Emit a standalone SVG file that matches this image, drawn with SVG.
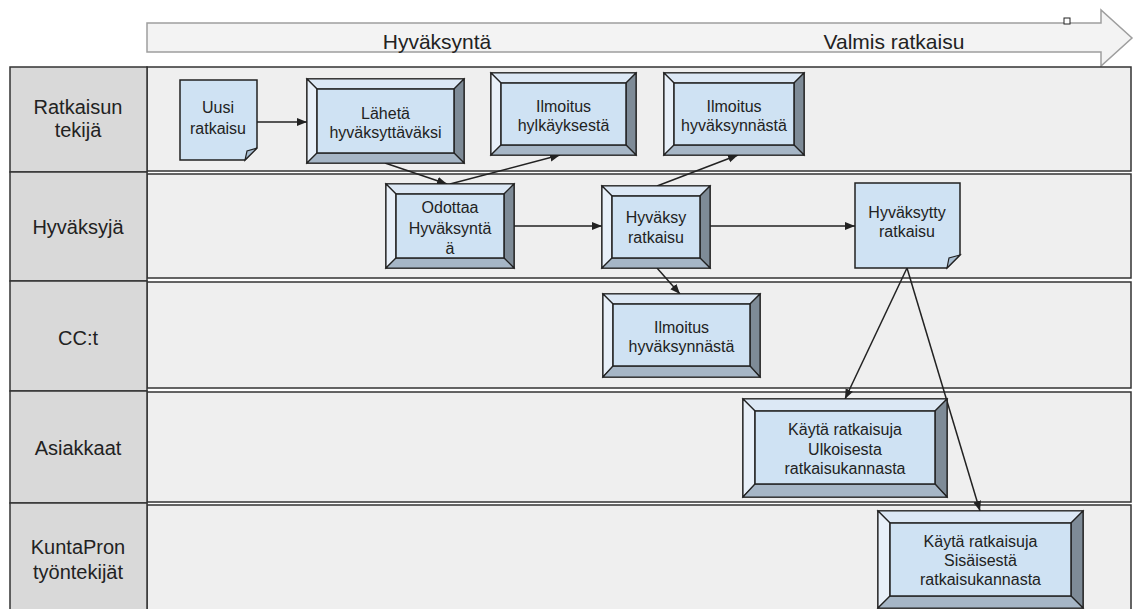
<svg xmlns="http://www.w3.org/2000/svg" width="1137" height="609" viewBox="0 0 1137 609">
<defs>
<style>
.lbl{font-family:"Liberation Sans",Arial,sans-serif;font-size:20px;fill:#222;text-anchor:middle;dominant-baseline:central}
.hdr{font-family:"Liberation Sans",Arial,sans-serif;font-size:21px;fill:#222;text-anchor:middle;dominant-baseline:central}
.t{font-family:"Liberation Sans",Arial,sans-serif;font-size:16px;fill:#222;text-anchor:middle;dominant-baseline:central}
.lane{fill:#efefef;stroke:#333;stroke-width:1.5}
.cell{fill:#d9d9d9;stroke:#333;stroke-width:1.5}
.o{fill:#cfe2f3;stroke:#222;stroke-width:1.5}
.bt{fill:#dce8f5;stroke:#222;stroke-width:1.2}
.bl{fill:#e8f0f9;stroke:#222;stroke-width:1.2}
.br{fill:#7e8b97;stroke:#222;stroke-width:1.2}
.bb{fill:#a6b6c6;stroke:#222;stroke-width:1.2}
.in{fill:#cfe2f3;stroke:#222;stroke-width:1.5}
.doc{fill:#cfe2f3;stroke:#222;stroke-width:1.5}
.fold{fill:#a9bfd3;stroke:#222;stroke-width:1.2}
.c{fill:none;stroke:#222;stroke-width:1.5;marker-end:url(#ah)}
.cn{fill:none;stroke:#222;stroke-width:1.5}
</style>
<marker id="ah" viewBox="0 0 10 10" refX="10" refY="5" markerWidth="10" markerHeight="10" markerUnits="userSpaceOnUse" orient="auto">
<path d="M0,1 L10,5 L0,9 Z" fill="#222"/>
</marker>
</defs>

<g id="timeline">
<polygon points="147,23 1101,23 1101,10 1132,38 1101,66 1101,52 147,52" fill="#f3f3f3" stroke="#9e9e9e" stroke-width="1.5"/>
<text class="hdr" x="437" y="41">Hyväksyntä</text>
<text class="hdr" x="894" y="41">Valmis ratkaisu</text>
<rect x="1064" y="18" width="6" height="6" fill="#fff" stroke="#222" stroke-width="1"/>
</g>

<g id="lanes">
<rect class="lane" x="147" y="67" width="984" height="104"/>
<rect class="lane" x="147" y="174" width="984" height="104"/>
<rect class="lane" x="147" y="282" width="984" height="106"/>
<rect class="lane" x="147" y="392" width="984" height="110"/>
<rect class="lane" x="147" y="505" width="984" height="110"/>
<rect class="cell" x="10" y="67" width="137" height="105"/>
<rect class="cell" x="10" y="172" width="137" height="109"/>
<rect class="cell" x="10" y="281" width="137" height="110"/>
<rect class="cell" x="10" y="391" width="137" height="112"/>
<rect class="cell" x="10" y="503" width="137" height="112"/>
<text class="lbl" x="78" y="107">Ratkaisun</text>
<text class="lbl" x="78" y="130">tekijä</text>
<text class="lbl" x="78" y="227">Hyväksyjä</text>
<text class="lbl" x="78" y="338">CC:t</text>
<text class="lbl" x="78" y="448">Asiakkaat</text>
<text class="lbl" x="78" y="547">KuntaPron</text>
<text class="lbl" x="78" y="572">työntekijät</text>
</g>

<g id="connectors">
<line class="c" x1="257" y1="122" x2="307" y2="122"/>
<line class="c" x1="385" y1="163" x2="447" y2="184"/>
<line class="c" x1="450" y1="184" x2="560" y2="155"/>
<line class="c" x1="514" y1="226" x2="602" y2="226"/>
<line class="c" x1="657" y1="186" x2="738" y2="155"/>
<line class="c" x1="710" y1="226" x2="855" y2="226"/>
<line class="c" x1="657" y1="268" x2="680" y2="294"/>
<line class="c" x1="907" y1="268" x2="845" y2="399"/>
<line class="c" x1="907" y1="268" x2="980" y2="511"/>
</g>

<g id="n-uusi">
<path class="doc" d="M180,80 H257 V148 L245,160 H180 Z"/>
<path class="fold" d="M257,148 L247,151 L245,160 Z"/>
<text class="t" x="218" y="107">Uusi</text>
<text class="t" x="218" y="128">ratkaisu</text>
</g>

<g id="n-laheta">
<rect class="o" x="307" y="79" width="157" height="84"/>
<polygon class="bt" points="307,79 464,79 454,89 317,89"/>
<polygon class="bl" points="307,79 317,89 317,153 307,163"/>
<polygon class="br" points="464,79 464,163 454,153 454,89"/>
<polygon class="bb" points="307,163 317,153 454,153 464,163"/>
<rect class="in" x="317" y="89" width="137" height="64"/>
<text class="t" x="385.5" y="113">Lähetä</text>
<text class="t" x="385.5" y="132">hyväksyttäväksi</text>
</g>

<g id="n-hylkays">
<rect class="o" x="491" y="73" width="145" height="82"/>
<polygon class="bt" points="491,73 636,73 626,83 501,83"/>
<polygon class="bl" points="491,73 501,83 501,145 491,155"/>
<polygon class="br" points="636,73 636,155 626,145 626,83"/>
<polygon class="bb" points="491,155 501,145 626,145 636,155"/>
<rect class="in" x="501" y="83" width="125" height="62"/>
<text class="t" x="563.5" y="106">Ilmoitus</text>
<text class="t" x="563.5" y="125">hylkäyksestä</text>
</g>

<g id="n-hyvaksynta1">
<rect class="o" x="664" y="73" width="140" height="82"/>
<polygon class="bt" points="664,73 804,73 794,83 674,83"/>
<polygon class="bl" points="664,73 674,83 674,145 664,155"/>
<polygon class="br" points="804,73 804,155 794,145 794,83"/>
<polygon class="bb" points="664,155 674,145 794,145 804,155"/>
<rect class="in" x="674" y="83" width="120" height="62"/>
<text class="t" x="734" y="106">Ilmoitus</text>
<text class="t" x="734" y="125">hyväksynnästä</text>
</g>

<g id="n-odottaa">
<rect class="o" x="386" y="184" width="128" height="84"/>
<polygon class="bt" points="386,184 514,184 504,194 396,194"/>
<polygon class="bl" points="386,184 396,194 396,258 386,268"/>
<polygon class="br" points="514,184 514,268 504,258 504,194"/>
<polygon class="bb" points="386,268 396,258 504,258 514,268"/>
<rect class="in" x="396" y="194" width="108" height="64"/>
<text class="t" x="450" y="207">Odottaa</text>
<text class="t" x="450" y="228">Hyväksyntä</text>
<text class="t" x="450" y="248">ä</text>
</g>

<g id="n-hyvaksy">
<rect class="o" x="602" y="186" width="108" height="82"/>
<polygon class="bt" points="602,186 710,186 700,196 612,196"/>
<polygon class="bl" points="602,186 612,196 612,258 602,268"/>
<polygon class="br" points="710,186 710,268 700,258 700,196"/>
<polygon class="bb" points="602,268 612,258 700,258 710,268"/>
<rect class="in" x="612" y="196" width="88" height="62"/>
<text class="t" x="656" y="217">Hyväksy</text>
<text class="t" x="656" y="237">ratkaisu</text>
</g>

<g id="n-hyvaksytty">
<path class="doc" d="M855,183 H960 V255 L947,268 H855 Z"/>
<path class="fold" d="M960,255 L949,258 L947,268 Z"/>
<text class="t" x="907" y="212">Hyväksytty</text>
<text class="t" x="907" y="231">ratkaisu</text>
</g>

<g id="n-cc">
<rect class="o" x="603" y="294" width="157" height="83"/>
<polygon class="bt" points="603,294 760,294 750,304 613,304"/>
<polygon class="bl" points="603,294 613,304 613,366 603,377"/>
<polygon class="br" points="760,294 760,377 750,366 750,304"/>
<polygon class="bb" points="603,377 613,366 750,366 760,377"/>
<rect class="in" x="613" y="304" width="137" height="62"/>
<text class="t" x="681.5" y="327">Ilmoitus</text>
<text class="t" x="681.5" y="346">hyväksynnästä</text>
</g>

<g id="n-ulkoinen">
<rect class="o" x="743" y="399" width="204" height="98"/>
<polygon class="bt" points="743,399 947,399 935,411 755,411"/>
<polygon class="bl" points="743,399 755,411 755,484 743,497"/>
<polygon class="br" points="947,399 947,497 935,484 935,411"/>
<polygon class="bb" points="743,497 755,484 935,484 947,497"/>
<rect class="in" x="755" y="411" width="180" height="73"/>
<text class="t" x="845" y="429">Käytä ratkaisuja</text>
<text class="t" x="845" y="449">Ulkoisesta</text>
<text class="t" x="845" y="468">ratkaisukannasta</text>
</g>

<g id="n-sisainen">
<rect class="o" x="878" y="511" width="205" height="97"/>
<polygon class="bt" points="878,511 1083,511 1071,523 890,523"/>
<polygon class="bl" points="878,511 890,523 890,596 878,608"/>
<polygon class="br" points="1083,511 1083,608 1071,596 1071,523"/>
<polygon class="bb" points="878,608 890,596 1071,596 1083,608"/>
<rect class="in" x="890" y="523" width="181" height="73"/>
<text class="t" x="980.5" y="541">Käytä ratkaisuja</text>
<text class="t" x="980.5" y="560">Sisäisestä</text>
<text class="t" x="980.5" y="579">ratkaisukannasta</text>
</g>
</svg>
